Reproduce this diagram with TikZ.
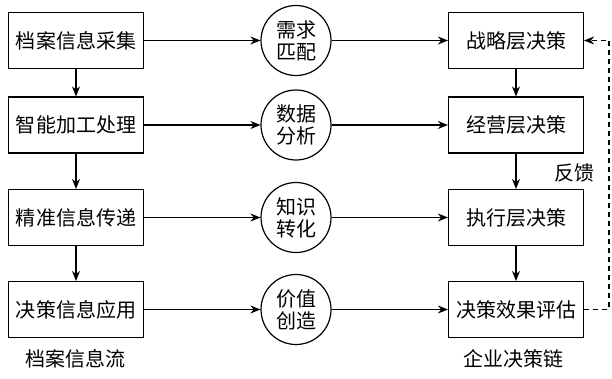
\documentclass[tikz,border=0pt]{standalone}
\usepackage{fontspec}
\setmainfont{Noto Sans CJK SC}
\usetikzlibrary{arrows.meta}
\begin{document}
\begin{tikzpicture}[x=1pt,y=-1pt,
  box/.style={draw,line width=1.2pt,minimum width=135pt,minimum height=56pt,inner sep=0pt,font=\fontsize{20}{22}\selectfont},
  circ/.style={draw,circle,line width=1.2pt,minimum size=70pt,inner sep=0pt,align=center,font=\fontsize{20}{22}\selectfont},
  lbl/.style={font=\fontsize{20}{22}\selectfont},
  arr/.style={line width=1.2pt,-{Stealth[length=10pt,width=8pt]}},
  darr/.style={line width=1.2pt,dashed,dash pattern=on 5pt off 4pt,-{Stealth[length=10pt,width=8pt]}}]
\useasboundingbox (0,0) rectangle (612,378);
% left column
\node[box] (l1) at (76,40.5) {档案信息采集};
\node[box] (l2) at (76,125) {智能加工处理};
\node[box] (l3) at (76,217.5) {精准信息传递};
\node[box] (l4) at (76,309.5) {决策信息应用};
% circles
\node[circ] (c1) at (296,40.5) {需求\\匹配};
\node[circ] (c2) at (296,125) {数据\\分析};
\node[circ] (c3) at (296,217.5) {知识\\转化};
\node[circ] (c4) at (296,309.5) {价值\\创造};
% right column
\node[box] (r1) at (516,40.5) {战略层决策};
\node[box] (r2) at (516,125) {经营层决策};
\node[box] (r3) at (516,217.5) {执行层决策};
\node[box] (r4) at (516,309.5) {决策效果评估};
% labels
\node[lbl] (t1) at (75,359) {档案信息流};
\node[lbl] (t2) at (513,359) {企业决策链};
\node[lbl] (fb) at (574,173) {反馈};
% vertical arrows
\draw[arr] (l1) -- (l2);
\draw[arr] (l2) -- (l3);
\draw[arr] (l3) -- (l4);
\draw[arr] (r1) -- (r2);
\draw[arr] (r2) -- (r3);
\draw[arr] (r3) -- (r4);
% horizontal arrows
\foreach \i in {1,2,3,4}{
  \draw[arr] (l\i) -- (c\i);
  \draw[arr] (c\i) -- (r\i);
}
% feedback
\coordinate (fa) at (609,309.5);
\coordinate (fbb) at (609,40.5);
\draw[darr] (r4.east) -- (fa) -- (fbb) -- (r1.east);
\end{tikzpicture}
\end{document}
